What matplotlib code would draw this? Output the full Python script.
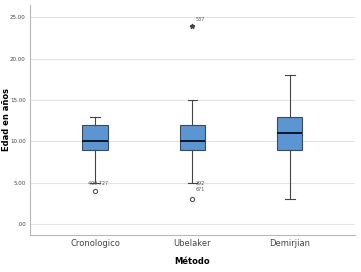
import matplotlib.pyplot as plt

metodos = ['Cronologico', 'Ubelaker', 'Demirjian']
q1 = [9, 9, 9]
medianas = [10, 10, 11]
q3 = [12, 12, 13]
bigote_inf = [5, 5, 3]
bigote_sup = [13, 15, 18]
atipicos = [[4], [3], []]
extremos = [[], [24], []]
etiquetas = [[(4.9, '409 727')], [(4.9, '392'), (4.2, '671'), (24.7, '537')], []]

stats = []
for i, m in enumerate(metodos):
    stats.append(dict(label=m, q1=q1[i], med=medianas[i], q3=q3[i],
                      whislo=bigote_inf[i], whishi=bigote_sup[i], fliers=atipicos[i]))

fig = plt.figure(figsize=(3.61, 2.72), dpi=100)
ax = fig.add_axes([0.083, 0.136, 0.9, 0.846])

ax.bxp(stats, positions=[1, 2, 3], widths=0.26, patch_artist=True, capwidths=0.1,
       boxprops=dict(facecolor='#5b96d2', edgecolor='#3a4a5c', linewidth=0.8),
       medianprops=dict(color='#101828', linewidth=1.4),
       whiskerprops=dict(color='#444444', linewidth=0.8),
       capprops=dict(color='#444444', linewidth=0.8),
       flierprops=dict(marker='o', markersize=3, markerfacecolor='none',
                       markeredgecolor='#555555', markeredgewidth=0.8))

for i, ex in enumerate(extremos):
    for v in ex:
        ax.plot(i + 1, v, marker='*', color='#444444', markersize=3.5)

for i, lst in enumerate(etiquetas):
    for y, t in lst:
        ax.text(i + 1.03, y, t, fontsize=3.5, color='#555555', ha='left' if i else 'center',
                va='center')

ax.set_xlim(0.33, 3.67)
ax.set_ylim(-1.33, 26.5)
ax.set_yticks([0, 5, 10, 15, 20, 25])
ax.set_yticklabels(['.00', '5.00', '10.00', '15.00', '20.00', '25.00'], fontsize=4, color='#444444')
ax.set_xticklabels(metodos, fontsize=6, color='#444444')
ax.tick_params(length=0, pad=3)
ax.yaxis.grid(True, color='#e3e3e3', linewidth=0.8)
ax.set_axisbelow(True)
for s in ['top', 'right']:
    ax.spines[s].set_visible(False)
for s in ['left', 'bottom']:
    ax.spines[s].set_color('#b8b8b8')
    ax.spines[s].set_linewidth(0.8)

ax.set_ylabel('Edad en años', fontsize=6, fontweight='bold')
ax.yaxis.set_label_coords(-0.058, 0.5)
ax.set_xlabel('Método', fontsize=6, fontweight='bold', labelpad=6)

fig.savefig('out.png', dpi=100)
